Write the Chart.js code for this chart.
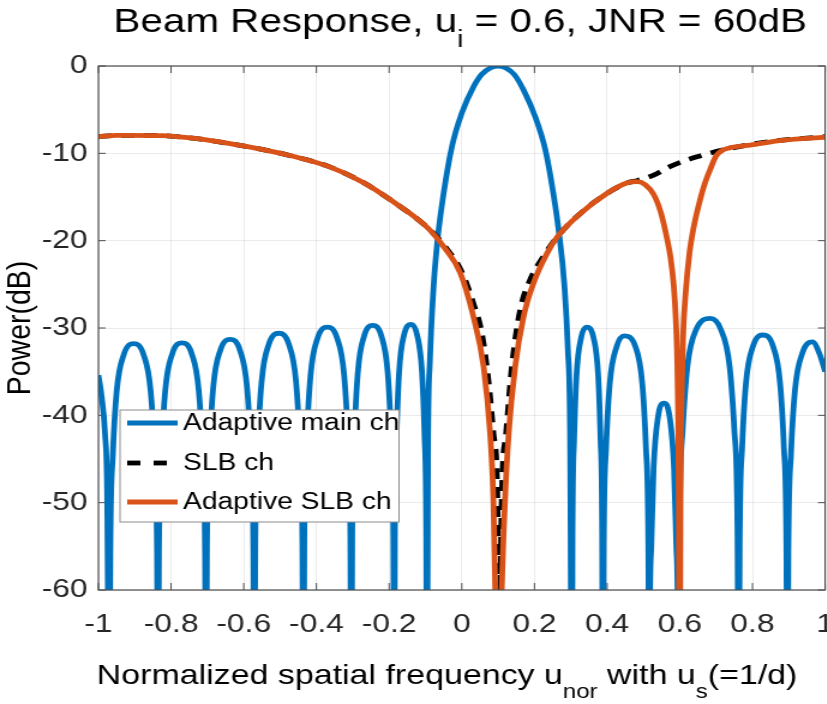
<!DOCTYPE html>
<html><head><meta charset="utf-8">
<script src="https://cdn.jsdelivr.net/npm/chart.js@4.4.1/dist/chart.umd.min.js"></script>
<style>
html,body{margin:0;padding:0;background:#fff;overflow:hidden;}
#wrap{position:absolute;left:0;top:0;width:690px;height:704px;transform:scaleX(1.2);transform-origin:0 0;}
canvas{display:block;}
</style></head><body>
<div id="wrap"><canvas id="c"></canvas></div>
<script>
// ---------------- data ----------------
const seriesNames = ['Adaptive main ch', 'SLB ch', 'Adaptive SLB ch'];
const xTicks = [-1, -0.8, -0.6, -0.4, -0.2, 0, 0.2, 0.4, 0.6, 0.8, 1];
const xTickLabels = ['-1', '-0.8', '-0.6', '-0.4', '-0.2', '0', '0.2', '0.4', '0.6', '0.8', '1'];
const yTicks = [-60, -50, -40, -30, -20, -10, 0];
const yTickLabels = ['-60', '-50', '-40', '-30', '-20', '-10', '0'];
const titleParts = [['Beam Response, u', 0], ['i', 1], [' = 0.6, JNR = 60dB', 0]];
const xLabelParts = [['Normalized spatial frequency u', 0], ['nor', 1], [' with u', 0], ['s', 1], ['(=1/d)', 0]];
const yLabel = 'Power(dB)';

// Adaptive main channel
const uMain = [
 -1.000, -0.991, -0.982, -0.976, -0.970,
 -0.9673, -0.9606, -0.9499, -0.9298, -0.9030, -0.8762, -0.8561, -0.8454, -0.8387, -0.8360,
 -0.8334, -0.8268, -0.8162, -0.7964, -0.7700, -0.7436, -0.7238, -0.7132, -0.7066, -0.7040,
 -0.7013, -0.6947, -0.6841, -0.6641, -0.6375, -0.6109, -0.5910, -0.5803, -0.5737, -0.5710,
 -0.5683, -0.5616, -0.5508, -0.5305, -0.5035, -0.4765, -0.4563, -0.4456, -0.4387, -0.4360,
 -0.4334, -0.4268, -0.4162, -0.3964, -0.3700, -0.3436, -0.3238, -0.3132, -0.3066, -0.3040,
 -0.3016, -0.2957, -0.2863, -0.2686, -0.2450, -0.2214, -0.2037, -0.1943, -0.1884, -0.1860,
 -0.1842, -0.1797, -0.1725, -0.1590, -0.1390, -0.1230, -0.1095, -0.1023, -0.0978, -0.0960,
 -0.0930, -0.0880, -0.0780, -0.0670, -0.0500, -0.0270, 0.0000, 0.0320, 0.0550, 0.0800, 0.1000,
 0.1200, 0.1450, 0.1700, 0.2020, 0.2300, 0.2520, 0.2690, 0.2820, 0.2920, 0.2980, 0.3030,
 0.3047, 0.3090, 0.3158, 0.3285, 0.3435, 0.3625, 0.3753, 0.3820, 0.3863, 0.3880,
 0.3906, 0.3970, 0.4072, 0.4264, 0.4470, 0.4776, 0.4968, 0.5070, 0.5134, 0.5160,
 0.5176, 0.5216, 0.5280, 0.5400, 0.5570, 0.5720, 0.5840, 0.5904, 0.5944, 0.5960,
 0.5993, 0.6076, 0.6209, 0.6458, 0.6840, 0.7122, 0.7371, 0.7504, 0.7587, 0.7620,
 0.7647, 0.7714, 0.7821, 0.8022, 0.8280, 0.8558, 0.8759, 0.8866, 0.8933, 0.8960,
 0.8988, 0.9058, 0.9170, 0.9380, 0.9650, 0.9850, 1.0000
];
const pMain = [
 -35.4, -37.9, -42.0, -49.0, -80,
 -55.8, -44.8, -37.3, -33.0, -31.8, -33.0, -37.3, -44.8, -55.8, -80,
 -55.7, -44.7, -37.2, -32.9, -31.7, -32.9, -37.2, -44.7, -55.7, -80,
 -55.3, -44.3, -36.8, -32.5, -31.3, -32.5, -36.8, -44.3, -55.3, -80,
 -54.6, -43.6, -36.1, -31.8, -30.6, -31.8, -36.1, -43.6, -54.6, -80,
 -53.9, -42.9, -35.4, -31.1, -29.9, -31.1, -35.4, -42.9, -53.9, -80,
 -53.7, -42.7, -35.2, -30.9, -29.7, -30.9, -35.2, -42.7, -53.7, -80,
 -53.6, -42.6, -35.1, -30.8, -29.6, -30.8, -35.1, -42.6, -53.6, -80,
 -44.0, -34.0, -25.5, -20.0, -14.6, -9.2, -5.4, -2.4, -0.95, -0.2, 0.0,
 -0.2, -1.0, -2.75, -5.8, -9.6, -14.6, -19.6, -24.9, -32.5, -42.0, -80,
 -53.9, -42.9, -35.4, -31.1, -29.9, -31.1, -35.4, -42.9, -53.9, -80,
 -54.9, -43.9, -36.4, -32.1, -30.9, -32.1, -36.4, -43.9, -54.9, -80,
 -62.6, -55.0, -46.0, -40.2, -38.6, -40.2, -46.0, -55.0, -62.6, -80,
 -52.9, -41.9, -34.4, -30.1, -28.9, -30.1, -34.4, -41.9, -52.9, -80,
 -54.8, -43.8, -36.3, -32.0, -30.8, -32.0, -36.3, -43.8, -54.8, -80,
 -55.6, -44.6, -37.1, -32.8, -31.6, -33.0, -35.0
];

// SLB channel (dashed)
const uSlb = [
 -1.000, -0.950, -0.917, -0.825, -0.734, -0.642, -0.550, -0.459, -0.367, -0.275,
 -0.183, -0.092, -0.046, 0.000, 0.032, 0.055, 0.074, 0.087, 0.097, 0.101,
 0.104, 0.107, 0.110, 0.122, 0.138, 0.161, 0.188, 0.225, 0.262, 0.326,
 0.399, 0.454, 0.484, 0.528, 0.574, 0.647, 0.720, 0.812, 0.904, 1.000
];
const pSlb = [
 -8.10, -7.95, -7.94, -7.98, -8.30, -8.86, -9.55, -10.4, -11.5, -13.25,
 -15.7, -18.6, -20.7, -23.6, -27.2, -30.6, -36.3, -42.1, -47.8, -60,
 -80, -60, -49.7, -42.1, -34.4, -27.9, -24.5, -21.8, -19.6, -16.9,
 -14.6, -13.4, -13.1, -12.5, -11.5, -10.4, -9.6, -8.86, -8.40, -8.10
];

// Adaptive SLB channel
const uAdSlb = [
 -1.000, -0.950, -0.917, -0.825, -0.734, -0.642, -0.550, -0.459, -0.367, -0.275,
 -0.183, -0.092, -0.046, -0.004, 0.032, 0.060, 0.078, 0.087, 0.092, 0.100,
 0.110, 0.119, 0.129, 0.147, 0.170, 0.197, 0.234, 0.262, 0.326, 0.399,
 0.454, 0.484, 0.505, 0.528, 0.548, 0.565, 0.574, 0.583, 0.589, 0.594,
 0.597, 0.5995, 0.602, 0.605, 0.609, 0.616, 0.627, 0.638, 0.656, 0.670,
 0.684, 0.700, 0.715, 0.739, 0.794, 0.886, 1.000
];
const pAdSlb = [
 -8.10, -7.95, -7.94, -7.98, -8.30, -8.86, -9.55, -10.4, -11.5, -13.25,
 -15.7, -18.6, -20.9, -23.7, -28.7, -34.4, -42.1, -49.7, -60, -80,
 -60, -49.7, -42.1, -34.4, -28.7, -24.9, -21.5, -19.6, -16.9, -14.6,
 -13.4, -13.25, -13.6, -14.7, -16.8, -19.8, -21.8, -25.0, -29.0, -36.0,
 -48.0, -80, -48.0, -38.0, -31.0, -26.0, -21.3, -18.5, -15.3, -13.3,
 -11.8, -10.3, -9.7, -9.35, -9.05, -8.50, -8.15
];

// ---------------- chart ----------------
const FONT = "'Liberation Sans', Arial, Helvetica, sans-serif";
const BLUE = '#0072BD', ORANGE = '#D95319', BLACK = '#000000';
Chart.defaults.font.family = FONT;
const pts = (u, p) => u.map((v, i) => ({x: v, y: p[i]}));

function richText(ctx, parts, cx, base, size, subSize, drop) {
  ctx.save();
  ctx.fillStyle = '#000';
  ctx.textBaseline = 'alphabetic';
  ctx.textAlign = 'left';
  let total = 0;
  const ws = parts.map(p => {
    ctx.font = (p[1] ? subSize : size) + 'px ' + FONT;
    const w = ctx.measureText(p[0]).width; total += w; return w;
  });
  let x = cx - total / 2;
  parts.forEach((p, i) => {
    ctx.font = (p[1] ? subSize : size) + 'px ' + FONT;
    ctx.fillText(p[0], x, base + (p[1] ? drop : 0));
    x += ws[i];
  });
  ctx.restore();
}

const framePlugin = {
  id: 'frame',
  beforeDatasetsDraw(chart) {
    const {ctx, chartArea: a, scales: {x, y}} = chart;
    ctx.save();
    ctx.strokeStyle = '#4d4d4d';
    ctx.lineWidth = 1;
    ctx.beginPath();
    xTicks.forEach(v => {
      const px = x.getPixelForValue(v);
      ctx.moveTo(px, a.bottom); ctx.lineTo(px, a.bottom - 7);
      ctx.moveTo(px, a.top); ctx.lineTo(px, a.top + 7);
    });
    yTicks.forEach(v => {
      const py = y.getPixelForValue(v);
      ctx.moveTo(a.left, py); ctx.lineTo(a.left + 6, py);
      ctx.moveTo(a.right, py); ctx.lineTo(a.right - 6, py);
    });
    ctx.stroke();
    ctx.restore();
  },
  afterDatasetsDraw(chart) {
    const {ctx, chartArea: a} = chart;
    ctx.save();
    ctx.strokeStyle = '#4d4d4d';
    ctx.lineWidth = 1.2;
    ctx.strokeRect(a.left, a.top, a.right - a.left, a.bottom - a.top);
    // legend
    const L = 100, T = 410, W = 232.5, H = 112;
    ctx.fillStyle = '#fff';
    ctx.fillRect(L, T, W, H);
    ctx.strokeStyle = '#8c8c8c';
    ctx.lineWidth = 1;
    ctx.strokeRect(L, T, W, H);
    const rows = [423, 463, 502];
    const cols = [BLUE, BLACK, ORANGE];
    rows.forEach((ry, i) => {
      ctx.beginPath();
      ctx.strokeStyle = cols[i];
      ctx.lineWidth = 4.8;
      ctx.setLineDash(i === 1 ? [11, 11] : []);
      ctx.moveTo(106, ry); ctx.lineTo(148, ry);
      ctx.stroke();
      ctx.setLineDash([]);
      ctx.fillStyle = '#000';
      ctx.font = '23.5px ' + FONT;
      ctx.textBaseline = 'middle';
      ctx.textAlign = 'left';
      ctx.fillText(seriesNames[i], 152.5, ry + 1);
    });
    ctx.restore();
  },
  afterDraw(chart) {
    const ctx = chart.ctx;
    richText(ctx, titleParts, 383.5, 32, 33.7, 23, 15);
    richText(ctx, xLabelParts, 372.5, 684, 28.3, 20, 14);
  }
};

const lineDs = (label, u, p, color, order, dash) => ({
  label, data: pts(u, p), borderColor: color, backgroundColor: color,
  borderWidth: 4.8, borderDash: dash || [], pointRadius: 0, fill: false,
  cubicInterpolationMode: 'monotone', clip: 0, order
});

new Chart(document.getElementById('c'), {
  type: 'line',
  data: {
    datasets: [
      lineDs(seriesNames[0], uMain, pMain, BLUE, 2),
      lineDs(seriesNames[1], uSlb, pSlb, BLACK, 1, [11, 8]),
      lineDs(seriesNames[2], uAdSlb, pAdSlb, ORANGE, 0)
    ]
  },
  options: {
    responsive: true, maintainAspectRatio: false, animation: false,
    layout: {padding: {top: 66, right: 2, left: 0, bottom: 0}},
    plugins: {legend: {display: false}, title: {display: false}, tooltip: {enabled: false}},
    scales: {
      x: {
        type: 'linear', min: -1, max: 1,
        afterBuildTicks: s => { s.ticks = xTicks.map(v => ({value: v})); },
        afterFit: s => { s.height = 114; s.paddingLeft = 0; s.paddingRight = 0; },
        grid: {color: 'rgba(0,0,0,0.08)', drawTicks: false, lineWidth: 1},
        border: {display: false},
        ticks: {
          font: {size: 26.5}, color: '#262626', padding: 19, maxRotation: 0, autoSkip: false,
          callback: v => xTickLabels[xTicks.indexOf(v)]
        }
      },
      y: {
        type: 'linear', min: -60, max: 0,
        afterBuildTicks: s => { s.ticks = yTicks.map(v => ({value: v})); },
        afterFit: s => { s.width = 82; s.paddingTop = 0; s.paddingBottom = 0; },
        grid: {color: 'rgba(0,0,0,0.08)', drawTicks: false, lineWidth: 1},
        border: {display: false},
        title: {display: true, text: yLabel, font: {size: 28.5}, color: '#000', padding: {top: 0, bottom: 0}},
        ticks: {
          font: {size: 26.5}, color: '#262626', padding: 9, autoSkip: false,
          callback: v => yTickLabels[yTicks.indexOf(v)]
        }
      }
    }
  },
  plugins: [framePlugin]
});
</script>
</body></html>
